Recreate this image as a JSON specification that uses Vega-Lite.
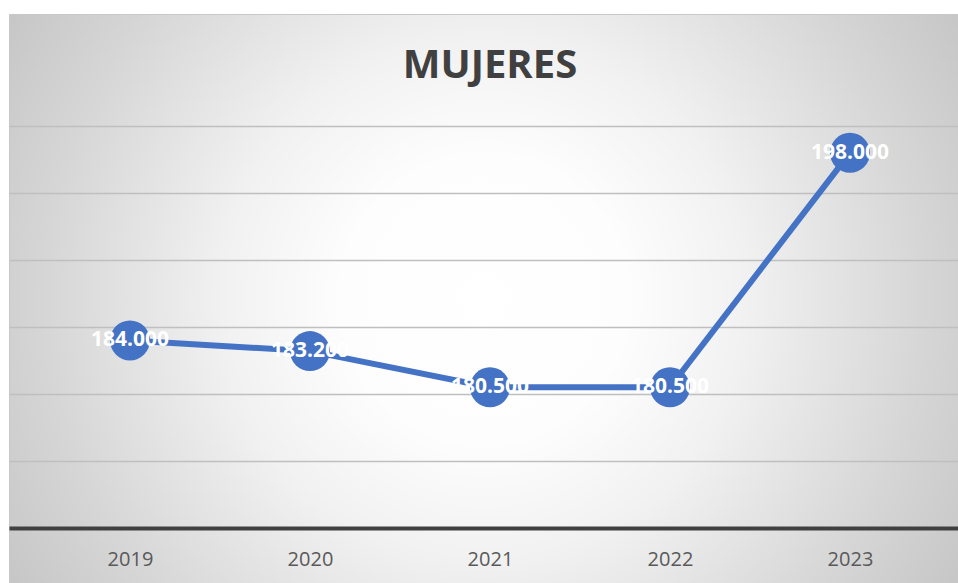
{
  "$schema": "https://vega.github.io/schema/vega-lite/v6.json",
  "autosize": "none",
  "width": 949,
  "height": 569,
  "padding": {"left": 9, "top": 14, "right": 0, "bottom": 0},
  "background": "#ffffff",
  "config": {
    "view": {
      "stroke": "#c8c8c8",
      "strokeWidth": 1,
      "fill": {
        "gradient": "radial",
        "x1": 0.5, "y1": 0.5, "r1": 0,
        "x2": 0.5, "y2": 0.5, "r2": 0.6,
        "stops": [
          {"offset": 0, "color": "#ffffff"},
          {"offset": 0.25, "color": "#fdfdfd"},
          {"offset": 0.46, "color": "#f1f1f1"},
          {"offset": 0.77, "color": "#d6d6d6"},
          {"offset": 1, "color": "#c4c4c4"}
        ]
      }
    },
    "font": "Open Sans"
  },
  "data": {"values": [
    {"year": 2019, "value": 184.0, "label": "184.000"},
    {"year": 2020, "value": 183.2, "label": "183.200"},
    {"year": 2021, "value": 180.5, "label": "180.500"},
    {"year": 2022, "value": 180.5, "label": "180.500"},
    {"year": 2023, "value": 198.0, "label": "198.000"}
  ]},
  "layer": [
    {
      "mark": {"type": "line", "color": "#4472c4", "strokeWidth": 6},
      "encoding": {
        "x": {"field": "year", "type": "quantitative",
          "scale": {"domain": [2018.328, 2023.6], "nice": false, "zero": false},
          "axis": {"values": [2019, 2020, 2021, 2022, 2023], "format": "d", "title": null, "domain": false, "ticks": false, "grid": false, "labelFontSize": 20, "labelColor": "#595959", "labelFont": "Open Sans", "offset": -24, "labelPadding": 0, "labelBaseline": "middle", "labelFlush": false}},
        "y": {"field": "value", "type": "quantitative",
          "scale": {"domain": [165.896, 208.358], "nice": false, "zero": false},
          "axis": {"values": [170, 175, 180, 185, 190, 195, 200], "labels": false, "ticks": false, "domain": false, "title": null, "grid": true,
            "gridColor": {"condition": {"test": "datum.value === 170", "value": "#404040"}, "value": "#bfbfbf"},
            "gridWidth": {"condition": {"test": "datum.value === 170", "value": 4}, "value": 1.5}}}
      }
    },
    {
      "mark": {"type": "circle", "color": "#4472c4", "opacity": 1, "size": 1600},
      "encoding": {
        "x": {"field": "year", "type": "quantitative"},
        "y": {"field": "value", "type": "quantitative"}
      }
    },
    {
      "mark": {"type": "text", "color": "#ffffff", "fontSize": 21, "fontWeight": "bold", "font": "Open Sans", "align": "center", "baseline": "middle"},
      "encoding": {
        "x": {"field": "year", "type": "quantitative"},
        "y": {"field": "value", "type": "quantitative"},
        "text": {"field": "label"}
      }
    },
    {
      "data": {"values": [{"t": "MUJERES"}]},
      "mark": {"type": "text", "color": "#404040", "fontSize": 40, "fontWeight": "bold", "font": "Open Sans", "align": "center", "baseline": "alphabetic"},
      "encoding": {
        "x": {"datum": 2021.0, "type": "quantitative"},
        "y": {"datum": 203.58, "type": "quantitative"},
        "text": {"field": "t"}
      }
    }
  ]
}
